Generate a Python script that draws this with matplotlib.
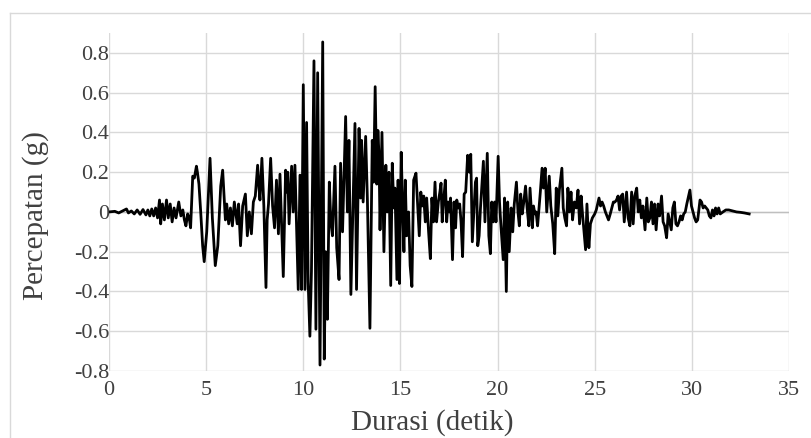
import matplotlib
matplotlib.use("Agg")
import matplotlib.pyplot as plt
from matplotlib.lines import Line2D
import numpy as np

# Time (s) and acceleration (g) (turning points)
time_s = [
    0.0, 0.3, 0.5, 0.7, 0.9, 1.0, 1.15, 1.3, 1.45, 1.6, 1.75, 1.9, 2.0, 2.1, 2.2, 2.3, 2.4, 2.5,
    2.6, 2.66, 2.75, 2.85, 2.96, 3.05, 3.15, 3.25, 3.35, 3.45, 3.59, 3.7, 3.8, 3.88, 3.96, 4.05,
    4.13, 4.2, 4.31, 4.39, 4.5, 4.55, 4.63, 4.72, 4.82, 4.9, 5.03, 5.2, 5.32, 5.47, 5.6, 5.75,
    5.85, 5.99, 6.06, 6.16, 6.25, 6.35, 6.45, 6.6, 6.67, 6.77, 6.88, 7.02, 7.12, 7.22, 7.33, 7.43,
    7.53, 7.65, 7.72, 7.77, 7.87, 7.97, 8.08, 8.14, 8.21, 8.32, 8.42, 8.52, 8.62, 8.72, 8.8, 8.88,
    8.97, 9.09, 9.15, 9.2, 9.27, 9.4, 9.48, 9.57, 9.65, 9.74, 9.83, 9.91, 10.0, 10.09, 10.17, 10.25,
    10.34, 10.42, 10.55, 10.65, 10.74, 10.86, 11.0, 11.08, 11.15, 11.24, 11.34, 11.42, 11.5, 11.63,
    11.72, 11.84, 11.92, 12.02, 12.18, 12.27, 12.35, 12.45, 12.55, 12.66, 12.74, 12.87, 12.95, 13.0,
    13.08, 13.21, 13.3, 13.43, 13.55, 13.62, 13.7, 13.78, 13.84, 13.9, 13.95, 14.05, 14.15, 14.25,
    14.32, 14.41, 14.5, 14.58, 14.66, 14.72, 14.82, 14.88, 14.95, 15.04, 15.12, 15.18, 15.25, 15.32,
    15.42, 15.5, 15.59, 15.68, 15.8, 15.88, 15.97, 16.05, 16.12, 16.2, 16.28, 16.35, 16.45, 16.54,
    16.62, 16.7, 16.78, 16.86, 16.95, 17.03, 17.09, 17.15, 17.22, 17.31, 17.38, 17.45, 17.52, 17.58,
    17.68, 17.76, 17.84, 17.9, 17.98, 18.05, 18.12, 18.2, 18.28, 18.36, 18.46, 18.55, 18.62, 18.7,
    18.78, 18.86, 18.92, 18.98, 19.05, 19.12, 19.27, 19.35, 19.47, 19.55, 19.63, 19.7, 19.78, 19.85,
    19.92, 20.03, 20.1, 20.16, 20.29, 20.36, 20.45, 20.52, 20.6, 20.7, 20.78, 20.86, 20.97, 21.05,
    21.12, 21.19, 21.27, 21.35, 21.44, 21.52, 21.61, 21.67, 21.79, 21.85, 21.92, 21.98, 22.06, 22.2,
    22.29, 22.36, 22.45, 22.53, 22.66, 22.74, 22.84, 22.94, 23.02, 23.1, 23.18, 23.31, 23.38, 23.46,
    23.55, 23.62, 23.7, 23.78, 23.86, 23.95, 24.05, 24.14, 24.22, 24.3, 24.38, 24.53, 24.6, 24.7,
    24.78, 24.88, 25.0, 25.08, 25.22, 25.3, 25.38, 25.46, 25.55, 25.71, 25.8, 25.88, 25.96, 26.04,
    26.12, 26.2, 26.28, 26.36, 26.44, 26.52, 26.64, 26.72, 26.81, 26.9, 26.98, 27.06, 27.16, 27.24,
    27.32, 27.4, 27.48, 27.59, 27.68, 27.76, 27.84, 27.92, 28.0, 28.08, 28.16, 28.26, 28.34, 28.44,
    28.52, 28.6, 28.7, 28.78, 28.86, 28.94, 29.02, 29.1, 29.18, 29.26, 29.34, 29.42, 29.5, 29.58,
    29.66, 29.74, 29.9, 29.98, 30.06, 30.14, 30.22, 30.3, 30.42, 30.5, 30.58, 30.66, 30.74, 30.82,
    30.9, 30.98, 31.06, 31.14, 31.22, 31.3, 31.38, 31.46, 31.6, 31.75, 31.9, 32.1, 32.3, 32.5,
    32.7, 32.95,
]
accel_g = [
    0.0, 0.003, -0.005, 0.005, 0.015, -0.005, 0.005, -0.01, 0.01, -0.012, 0.012, -0.015, 0.01, -0.02, 0.015, -0.02, 0.02, -0.03,
    0.06, -0.06, 0.04, -0.04, 0.06, -0.03, 0.04, -0.05, 0.02, -0.03, 0.05, -0.02, 0.01, -0.04, -0.07, -0.01,
    -0.03, -0.08, 0.18, 0.17, 0.23, 0.20, 0.14, 0.0, -0.17, -0.25, -0.10, 0.27, -0.03, -0.27, -0.17, 0.13,
    0.21, -0.04, 0.04, -0.06, 0.02, -0.07, 0.05, -0.06, 0.04, -0.17, 0.03, 0.09, -0.12, 0.0, -0.11, 0.05,
    0.08, 0.235, 0.12, 0.06, 0.27, 0.03, -0.38, -0.04, 0.04, 0.27, 0.03, -0.08, 0.16, -0.11, 0.19, -0.05,
    -0.325, 0.21, 0.10, 0.20, -0.06, 0.23, 0.0, 0.235, -0.05, -0.39, 0.185, -0.39, 0.64, -0.39, 0.45, -0.35,
    -0.625, -0.30, 0.76, -0.59, 0.70, -0.77, 0.855, -0.74, -0.20, -0.54, 0.15, -0.05, -0.12, 0.23,
    -0.18, -0.34, 0.245, -0.10, 0.48, 0.0, 0.36, -0.415, 0.0, 0.445, -0.39, 0.42, 0.07, 0.36,
    0.05, 0.38, 0.06, -0.585, 0.36, 0.15, 0.63, 0.14, 0.41, 0.28, -0.09, 0.40, -0.20, 0.235,
    0.0, 0.20, -0.37, 0.245, 0.02, 0.12, -0.34, 0.16, -0.36, 0.30, 0.0, -0.20, 0.16, -0.12,
    0.0, -0.27, -0.375, 0.16, 0.195, 0.05, -0.12, 0.10, 0.03, 0.08, -0.05, 0.07, -0.10, -0.235,
    0.07, -0.05, 0.15, -0.05, 0.05, 0.10, 0.145, -0.05, 0.05, 0.16, -0.05, 0.05, 0.0, 0.07,
    -0.24, 0.05, -0.08, 0.06, 0.02, 0.04, -0.05, -0.225, 0.09, 0.10, 0.285, 0.20, 0.29, -0.15,
    0.0, 0.15, 0.17, -0.17, -0.12, 0.02, 0.255, -0.05, 0.295, -0.12, -0.21, 0.05, -0.05, 0.05,
    -0.05, 0.28, 0.05, -0.05, -0.24, 0.07, -0.40, 0.05, -0.20, 0.02, -0.10, 0.04, 0.15, 0.0,
    -0.07, 0.09, -0.01, 0.05, 0.13, 0.02, -0.07, 0.12, -0.08, 0.03, -0.01, 0.0, -0.07, 0.10,
    0.22, 0.12, 0.22, 0.0, 0.18, 0.03, -0.06, -0.21, 0.12, -0.02, 0.11, 0.22, 0.02, -0.03,
    -0.07, 0.12, 0.0, 0.10, -0.04, 0.05, 0.02, 0.11, -0.06, 0.08, -0.02, -0.19, 0.04, -0.18,
    -0.06, -0.03, -0.01, 0.01, 0.07, 0.03, 0.05, 0.03, 0.0, -0.04, -0.01, 0.02, 0.05, 0.05,
    0.06, 0.08, 0.01, 0.08, 0.09, -0.05, 0.10, -0.03, -0.07, 0.10, -0.06, 0.08, 0.12, 0.0,
    0.06, -0.03, 0.03, -0.09, 0.07, -0.05, -0.03, 0.05, -0.06, 0.04, -0.09, 0.04, -0.02, 0.08,
    -0.05, -0.07, -0.13, -0.01, -0.05, -0.09, 0.02, 0.05, -0.06, -0.07, -0.05, -0.02, -0.04, -0.01,
    0.0, 0.04, 0.11, 0.03, 0.0, -0.03, -0.05, -0.04, 0.06, 0.05, 0.02, 0.03, 0.02, 0.01,
    -0.02, -0.03, 0.01, -0.02, 0.02, -0.01, 0.02, -0.01, 0.0, 0.01, 0.01, 0.005, 0.0, -0.002,
    -0.005, -0.01,
]

x_ticks = [0, 5, 10, 15, 20, 25, 30, 35]
y_ticks = [-0.8, -0.6, -0.4, -0.2, 0, 0.2, 0.4, 0.6, 0.8]
y_tick_labels = ["-0.8", "-0.6", "-0.4", "-0.2", "0", "0.2", "0.4", "0.6", "0.8"]
x_label = "Durasi (detik)"
y_label = "Percepatan (g)"

plt.rcParams['font.family'] = ['Liberation Serif', 'DejaVu Serif']

W, H = 812, 438
fig = plt.figure(figsize=(W / 100, H / 100), dpi=100)
ax = fig.add_axes([109 / W, 1 - 371 / H, (789 - 109) / W, (371 - 33) / H])

grid_c = "#d9d9d9"
for xt in x_ticks:
    ax.axvline(xt, color=grid_c, lw=1.0, zorder=0)
for yt in y_ticks:
    ax.axhline(yt, color=grid_c, lw=1.0, zorder=0)
ax.axhline(0, color="#bfbfbf", lw=1.0, zorder=1)

ax.plot(time_s, accel_g, color="black", lw=2.0, zorder=3, solid_joinstyle="round")

ax.set_xlim(0, 35)
ax.set_ylim(-0.8, 0.9)
ax.set_xticks(x_ticks)
ax.set_yticks(y_ticks)
ax.set_yticklabels(y_tick_labels)
for s in ax.spines.values():
    s.set_visible(False)
txt_c = "#404040"
ax.tick_params(length=0, labelsize=16, colors=txt_c)
ax.tick_params(axis='x', pad=7)
ax.tick_params(axis='y', pad=0)
ax.set_xlabel(x_label, fontsize=21, color=txt_c, va="center")
ax.set_ylabel(y_label, fontsize=21, color=txt_c, va="center")
ax.xaxis.set_label_coords((432 - 109) / 680, (371 - 423) / 338)
ax.yaxis.set_label_coords((36 - 109) / 680, (371 - 216) / 338)

# chart area border (light gray), extends past the right and bottom edges
bc = "#d9d9d9"
fig.add_artist(Line2D([10 / W, 10 / W], [0, 1 - 13 / H], transform=fig.transFigure, color=bc, lw=1))
fig.add_artist(Line2D([10 / W, 1], [1 - 13 / H, 1 - 13 / H], transform=fig.transFigure, color=bc, lw=1))

fig.savefig("out.png", dpi=100)
